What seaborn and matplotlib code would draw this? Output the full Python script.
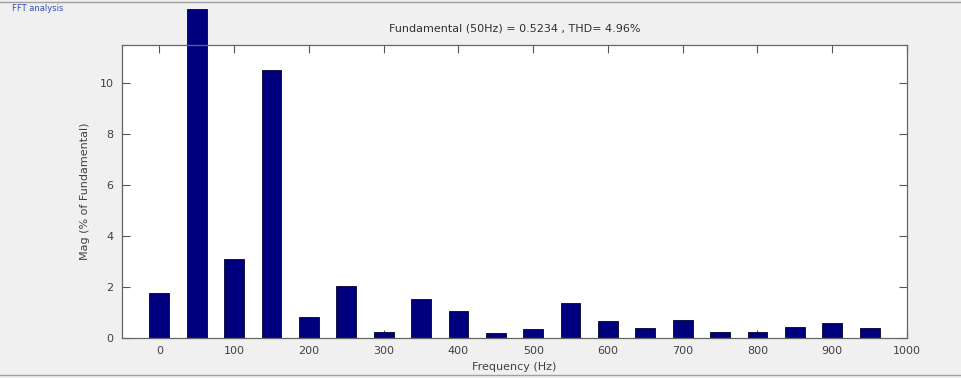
import matplotlib
matplotlib.use("Agg")
import matplotlib.pyplot as plt
import seaborn as sns
import pandas as pd
from matplotlib.lines import Line2D

freqs = [0, 50, 100, 150, 200, 250, 300, 350, 400, 450,
         500, 550, 600, 650, 700, 750, 800, 850, 900, 950]
mags = [1.78, 12.9, 3.1, 10.5, 0.82, 2.05, 0.23, 1.53, 1.07, 0.2,
        0.35, 1.39, 0.68, 0.38, 0.69, 0.23, 0.23, 0.45, 0.58, 0.38]
xticks = [0, 100, 200, 300, 400, 500, 600, 700, 800, 900, 1000]
yticks = [0, 2, 4, 6, 8, 10]
title = "Fundamental (50Hz) = 0.5234 , THD= 4.96%"
xlabel = "Frequency (Hz)"
ylabel = "Mag (% of Fundamental)"

sns.set_style("white")
plt.rcParams['font.family'] = ['DejaVu Sans']

df = pd.DataFrame({"freq": freqs, "mag": mags})

fig = plt.figure(figsize=(9.62, 3.78), dpi=100, facecolor="#f0f0f0")
ax = fig.add_axes([122/962, 40/378, (907-122)/962, (338-45)/378])
ax.set_facecolor("white")

sns.barplot(data=df, x="freq", y="mag", native_scale=True, width=0.53,
            color="#00007f", saturation=1, edgecolor="#000030",
            linewidth=0.6, ax=ax)
for p in ax.patches:
    p.set_clip_on(False)
    p.set_zorder(3)

ax.set_xlim(-50, 1000)
ax.set_ylim(0, 11.5)
ax.set_xticks(xticks)
ax.set_xticklabels([str(t) for t in xticks])
ax.set_yticks(yticks)
ax.set_yticklabels([str(t) for t in yticks])

tc = "#404040"
ax.tick_params(axis="both", direction="in", length=6, width=0.8, color="#555555",
               labelsize=8, labelcolor=tc, top=True, right=True,
               bottom=True, left=True, pad=6)
for s in ax.spines.values():
    s.set_color("#666666")
    s.set_linewidth(0.9)
    s.set_zorder(4)

ax.set_title(title, fontsize=8, color="#303030", pad=10)
ax.set_xlabel(xlabel, fontsize=8, color=tc, labelpad=4)
ax.set_ylabel(ylabel, fontsize=8, color=tc, labelpad=7)

fig.text(0.012, 1 - 4/378, "FFT analysis", color="#3050c0", fontsize=6, va="top")
fig.add_artist(Line2D([0, 1], [1 - 2/378, 1 - 2/378], color="#a0a0a0", lw=1))
fig.add_artist(Line2D([0, 1], [3/378, 3/378], color="#a0a0a0", lw=1))

fig.savefig("out.png", dpi=100, facecolor=fig.get_facecolor())
